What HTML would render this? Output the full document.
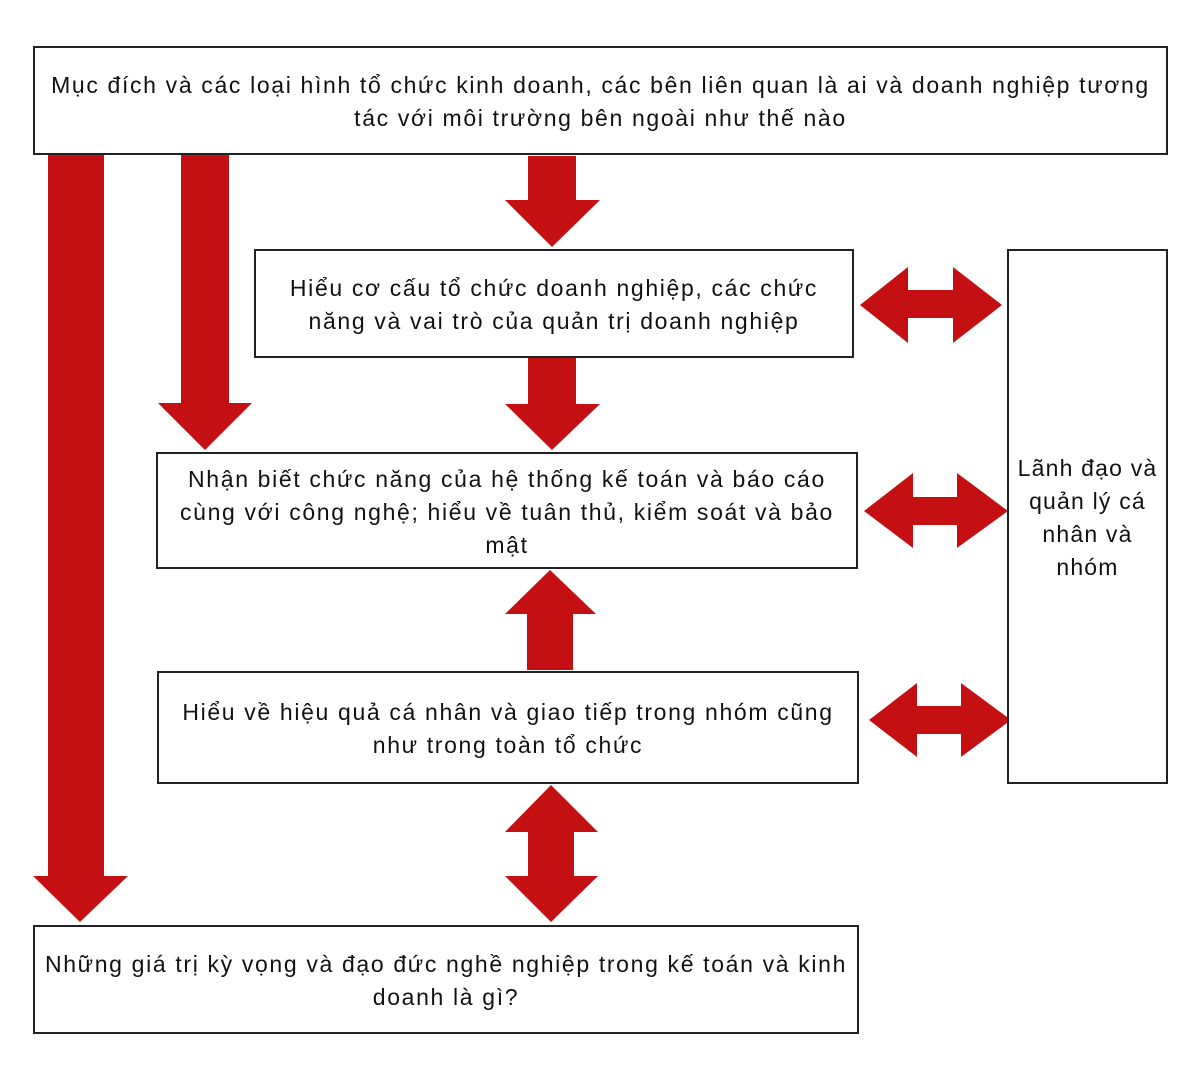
<!DOCTYPE html>
<html><head><meta charset="utf-8"><style>
body{margin:0;width:1200px;height:1080px;background:#fff;position:relative;overflow:hidden;font-family:"Liberation Sans","DejaVu Sans",sans-serif;}
.b{position:absolute;border:2px solid #222;box-sizing:border-box;display:flex;align-items:center;justify-content:center;text-align:center;font-size:23px;line-height:33px;color:#111;letter-spacing:1.65px;white-space:nowrap;background:#fff;padding-top:3px}
svg{position:absolute;left:0;top:0}
</style></head><body>
<svg width="1200" height="1080" fill="#c41012">
<polygon points="48,154 104,154 104,876 128,876 80,922 33,876 48,876"/>
<polygon points="181,154 229,154 229,403 252,403 205,450 158,403 181,403"/>
<polygon points="528,156 576,156 576,200 600,200 552,247 505,200 528,200"/>
<polygon points="528,358 576,358 576,404 600,404 552,450 505,404 528,404"/>
<polygon points="527,670 573,670 573,614 596,614 550,570 505,614 527,614"/>
<polygon points="551,785 598,832 574,832 574,876 598,876 551,922 505,876 528,876 528,832 505,832"/>
<polygon points="860,305 908,267 908,290 953,290 953,267 1002,305 953,343 953,318 908,318 908,343"/>
<polygon points="864,511 913,473 913,497 957,497 957,473 1008,511 957,548 957,525 913,525 913,548"/>
<polygon points="869,720 917,683 917,706 961,706 961,683 1011,720 961,757 961,734 917,734 917,757"/>
</svg>
<div class="b" style="left:33px;top:46px;width:1135px;height:109px">Mục đích và các loại hình tổ chức kinh doanh, các bên liên quan là ai và doanh nghiệp tương<br>tác với môi trường bên ngoài như thế nào</div>
<div class="b" style="left:254px;top:249px;width:600px;height:109px">Hiểu cơ cấu tổ chức doanh nghiệp, các chức<br>năng và vai trò của quản trị doanh nghiệp</div>
<div class="b" style="left:156px;top:452px;width:702px;height:117px">Nhận biết chức năng của hệ thống kế toán và báo cáo<br>cùng với công nghệ; hiểu về tuân thủ, kiểm soát và bảo<br>mật</div>
<div class="b" style="left:157px;top:671px;width:702px;height:113px">Hiểu về hiệu quả cá nhân và giao tiếp trong nhóm cũng<br>như trong toàn tổ chức</div>
<div class="b" style="left:33px;top:925px;width:826px;height:109px">Những giá trị kỳ vọng và đạo đức nghề nghiệp trong kế toán và kinh<br>doanh là gì?</div>
<div class="b" style="left:1007px;top:249px;width:161px;height:535px;letter-spacing:1.2px">Lãnh đạo và<br>quản lý cá<br>nhân và<br>nhóm</div>
</body></html>
